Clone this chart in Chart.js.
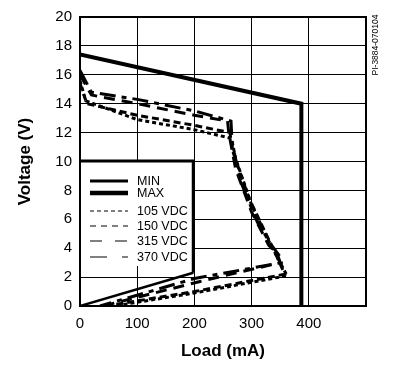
<!DOCTYPE html>
<html>
<head>
<meta charset="utf-8">
<script src="https://cdn.jsdelivr.net/npm/chart.js@4"></script>
<style>
  html, body { margin: 0; padding: 0; background: #fff; }
  canvas { display: block; }
</style>
</head>
<body>
<canvas id="loadChart" width="395" height="367"></canvas>
<script>
// Output voltage vs load
const xTicks = [0, 100, 200, 300, 400];
const yTicks = [0, 2, 4, 6, 8, 10, 12, 14, 16, 18, 20];
const legendNames = ['MIN', 'MAX', '105 VDC', '150 VDC', '315 VDC', '370 VDC'];

const loadMin = [0, 198];
const voltMin = [0, 2.3];

const loadMax = [0, 387, 387];
const voltMax = [17.4, 14.0, 0];

const load105 = [0, 10, 100, 200, 265, 272, 300, 330, 350, 362, 200, 60];
const volt105 = [15.6, 14.2, 12.9, 12.2, 11.6, 10.2, 7.0, 4.5, 3.0, 2.1, 0.9, 0];

const load150 = [0, 12, 100, 200, 262, 268, 295, 325, 342, 358, 200, 45];
const volt150 = [15.4, 14.0, 13.2, 12.5, 12.0, 10.6, 7.5, 5.0, 3.6, 2.2, 1.0, 0];

const load315 = [0, 20, 100, 200, 258, 260, 272, 300, 330, 345, 350, 210, 40];
const volt315 = [16.0, 14.6, 14.0, 13.2, 12.8, 12.0, 9.5, 6.5, 4.2, 3.6, 3.0, 1.7, 0];

const load370 = [0, 20, 100, 200, 264, 266, 282, 310, 335, 350, 352, 200, 35];
const volt370 = [16.3, 14.8, 14.3, 13.5, 12.8, 11.2, 8.5, 5.8, 4.2, 3.4, 3.0, 1.9, 0];

function pts(xs, ys) {
    return xs.map((x, i) => ({ x: x, y: ys[i] }));
}

const lineStyles = [
    { width: 2.5, dash: [] },
    { width: 4, dash: [] },
    { width: 3, dash: [4, 3] },
    { width: 3, dash: [7, 4] },
    { width: 3, dash: [11, 7] },
    { width: 3, dash: [16, 6, 5, 6] }
];
const seriesData = [
    pts(loadMin, voltMin),
    pts(loadMax, voltMax),
    pts(load105, volt105),
    pts(load150, volt150),
    pts(load315, volt315),
    pts(load370, volt370)
];

// legend box drawn over the plot, plus frame and side label
const boxPlugin = {
    id: 'boxPlugin',
    afterDatasetsDraw(chart) {
        const ctx = chart.ctx;
        const area = chart.chartArea;
        const xs = chart.scales.x;
        const ys = chart.scales.y;
        const bx = area.left + 1;
        const by = 161;
        const br = xs.getPixelForValue(198);
        const bb = 266;
        ctx.save();
        ctx.fillStyle = '#fff';
        ctx.fillRect(bx, by, br - bx, bb - by);
        ctx.strokeStyle = '#000';
        ctx.lineWidth = 3;
        ctx.beginPath();
        ctx.moveTo(area.left, by);
        ctx.lineTo(br, by);
        ctx.lineTo(br, ys.getPixelForValue(2.3));
        ctx.stroke();

        const rows = [181, 193, 211, 226, 241, 257];
        const legendDash = [[], [], [4, 3], [6, 5], [12, 13], [17, 15, 6, 40]];
        const legendWidth = [3, 4.5, 1, 1, 1, 1];
        ctx.font = '12.5px "Liberation Sans", Arial, sans-serif';
        ctx.textBaseline = 'middle';
        ctx.fillStyle = '#000';
        legendNames.forEach((name, i) => {
            ctx.lineWidth = legendWidth[i];
            ctx.setLineDash(legendDash[i]);
            ctx.beginPath();
            ctx.moveTo(90, rows[i]);
            ctx.lineTo(128, rows[i]);
            ctx.stroke();
            ctx.fillText(name, 137, rows[i] + 1);
        });
        ctx.setLineDash([]);

        // frame
        ctx.lineWidth = 2;
        ctx.strokeRect(area.left, area.top, area.right - area.left, area.bottom - area.top);

        // drawing number
        ctx.translate(376, 45);
        ctx.rotate(-Math.PI / 2);
        ctx.font = '8.5px "Liberation Sans", Arial, sans-serif';
        ctx.textAlign = 'center';
        ctx.fillText('PI-3884-070104', 0, 0);
        ctx.restore();
    }
};

document.addEventListener('DOMContentLoaded', function() {
    const ctx = document.getElementById('loadChart');
    new Chart(ctx.getContext('2d'), {
        type: 'scatter',
        data: {
            datasets: seriesData.map((d, i) => ({
                label: legendNames[i],
                data: d,
                showLine: true,
                borderColor: '#000',
                backgroundColor: '#000',
                borderWidth: lineStyles[i].width,
                borderDash: lineStyles[i].dash,
                pointRadius: 0,
                tension: 0
            }))
        },
        options: {
            responsive: false,
            animation: false,
            layout: { padding: { top: 15, right: 29, left: 0, bottom: 0 } },
            plugins: {
                legend: { display: false },
                tooltip: { enabled: false }
            },
            scales: {
                x: {
                    type: 'linear',
                    min: 0,
                    max: 500,
                    afterFit: function(scale) { scale.height = 61; },
                    afterBuildTicks: function(scale) {
                        scale.ticks = xTicks.concat([500]).map(v => ({ value: v }));
                    },
                    ticks: {
                        color: '#000',
                        padding: 9,
                        font: { family: '"Liberation Sans", Arial, sans-serif', size: 15 },
                        callback: function(v) { return xTicks.includes(v) ? String(v) : ''; }
                    },
                    grid: { color: '#000', lineWidth: 1, drawTicks: false },
                    border: { color: '#000', width: 2 },
                    title: {
                        display: true,
                        text: 'Load (mA)',
                        color: '#000',
                        padding: { top: 0, bottom: 5 },
                        font: { family: '"Liberation Sans", Arial, sans-serif', size: 17, weight: 'bold' }
                    }
                },
                y: {
                    type: 'linear',
                    min: 0,
                    max: 20,
                    afterFit: function(scale) { scale.width = 80; },
                    afterBuildTicks: function(scale) {
                        scale.ticks = yTicks.map(v => ({ value: v }));
                    },
                    ticks: {
                        color: '#000',
                        padding: 8,
                        font: { family: '"Liberation Sans", Arial, sans-serif', size: 15 }
                    },
                    grid: { color: '#000', lineWidth: 1, drawTicks: false },
                    border: { color: '#000', width: 2 },
                    title: {
                        display: true,
                        text: 'Voltage (V)',
                        color: '#000',
                        padding: { top: 15, bottom: 0 },
                        font: { family: '"Liberation Sans", Arial, sans-serif', size: 17, weight: 'bold' }
                    }
                }
            }
        },
        plugins: [boxPlugin]
    });
});
</script>
</body>
</html>
